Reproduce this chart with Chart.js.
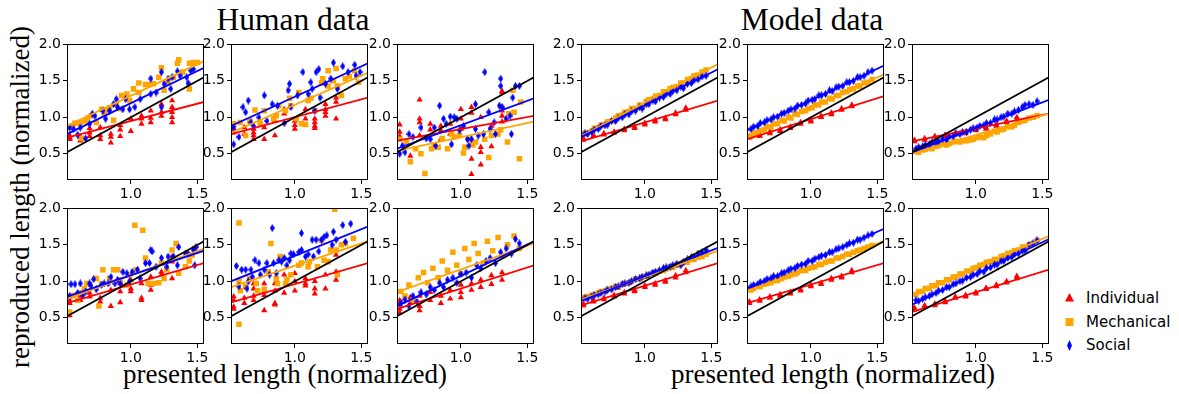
<!DOCTYPE html>
<html>
<head>
<meta charset="utf-8">
<script src="https://cdn.jsdelivr.net/npm/chart.js@4.4.0/dist/chart.umd.min.js"></script>
<style>
body { margin:0; background:#fff; width:1179px; height:394px; overflow:hidden; position:relative; }
.serif { position:absolute; font-family:"Liberation Serif"; color:#000; white-space:nowrap; line-height:1; }
.lg { position:absolute; font-family:"DejaVu Sans"; font-size:15px; line-height:15px; color:#000; white-space:nowrap; }
.mk { position:absolute; }
</style>
</head>
<body>
<div class="serif" style="font-size:31.5px;left:293px;top:4px;transform:translateX(-50%)">Human data</div>
<div class="serif" style="font-size:31.5px;left:812px;top:4px;transform:translateX(-50%)">Model data</div>
<div class="serif" style="font-size:27px;left:285px;top:361px;transform:translateX(-50%)">presented length (normalized)</div>
<div class="serif" style="font-size:27px;left:833px;top:361px;transform:translateX(-50%)">presented length (normalized)</div>
<div class="serif" style="font-size:27px;left:19.5px;top:197px;transform:translate(-50%,-50%) rotate(-90deg)">reproduced length (normalized)</div>

<svg class="mk" style="left:1063px;top:292px" width="13" height="12"><polygon points="6.5,1 11,9.5 2,9.5" fill="#ff0000"/></svg>
<svg class="mk" style="left:1063px;top:316px" width="13" height="12"><rect x="2.5" y="2" width="8" height="8" fill="#ffa500"/></svg>
<svg class="mk" style="left:1063px;top:339px" width="13" height="13"><polygon points="6.5,1 9,6.5 6.5,12 4,6.5" fill="#0000ff"/></svg>
<div class="lg" style="left:1086px;top:291px">Individual</div>
<div class="lg" style="left:1086px;top:315px">Mechanical</div>
<div class="lg" style="left:1086px;top:338px">Social</div>

<script>
// axis ranges and ticks
const xMin = 0.52, xMax = 1.55, yMin = 0.14, yMax = 2.0;
const xTicks = [1.0, 1.5];
const yTicks = [0.5, 1.0, 1.5, 2.0];
const seriesNames = ['Individual', 'Mechanical', 'Social'];

// ---- human data: one list of [presented, reproduced] per panel (top row 0-2, bottom row 3-5)
const humanRed = [
  [[0.54,0.75],[0.54,0.72],[0.54,0.70],[0.62,0.73],[0.62,0.68],[0.69,0.85],[0.69,0.79],[0.69,0.74],[0.77,0.86],[0.77,0.75],[0.77,0.70],[0.85,0.77],[0.85,0.73],[0.85,0.65],[0.92,0.89],[0.92,0.83],[0.92,0.74],[1.0,0.98],[1.0,0.81],[1.08,1.02],[1.08,0.98],[1.08,0.91],[1.15,1.09],[1.15,0.99],[1.15,0.93],[1.23,1.18],[1.23,1.07],[1.23,1.02],[1.31,1.23],[1.31,1.14],[1.31,1.07],[1.31,1.0],[1.31,0.93]],
  [[0.54,0.89],[0.54,0.84],[0.54,0.79],[0.62,0.86],[0.62,0.77],[0.69,0.84],[0.69,0.79],[0.69,0.75],[0.69,0.70],[0.77,0.86],[0.77,0.70],[0.85,0.95],[0.85,0.75],[0.92,1.11],[0.92,1.05],[1.0,0.95],[1.0,0.89],[1.0,0.84],[1.08,1.11],[1.08,0.98],[1.08,0.89],[1.15,0.98],[1.15,0.93],[1.15,0.88],[1.15,0.85],[1.23,1.18],[1.23,1.11],[1.23,1.07],[1.23,1.02],[1.31,1.27],[1.31,1.21],[1.31,0.98]],
  [[0.54,0.90],[0.54,0.80],[0.54,0.74],[0.54,0.70],[0.62,0.47],[0.69,1.24],[0.69,0.98],[0.69,0.93],[0.69,0.75],[0.77,0.91],[0.77,0.83],[0.85,0.88],[0.85,0.82],[0.85,0.70],[0.92,0.91],[0.92,0.77],[1.0,1.11],[1.0,0.98],[1.0,0.84],[1.08,1.14],[1.08,1.06],[1.08,0.43],[1.08,0.22],[1.15,1.0],[1.15,0.59],[1.15,0.52],[1.15,0.35],[1.23,0.88],[1.23,0.60],[1.31,1.36],[1.31,1.34],[1.31,1.14],[1.31,1.09],[1.31,1.02],[1.31,0.94]],
  [[0.54,0.79],[0.54,0.74],[0.54,0.70],[0.54,0.53],[0.62,0.79],[0.62,0.74],[0.69,0.84],[0.69,0.79],[0.77,0.77],[0.77,0.72],[0.85,0.88],[0.85,0.66],[0.92,0.97],[0.92,0.86],[0.92,0.71],[1.0,1.02],[1.0,0.90],[1.0,0.86],[1.08,0.97],[1.08,0.77],[1.08,0.74],[1.15,1.06],[1.15,0.95],[1.15,0.88],[1.23,1.13],[1.23,1.09],[1.31,1.34],[1.31,1.27],[1.31,1.04]],
  [[0.54,0.79],[0.54,0.74],[0.54,0.65],[0.54,0.62],[0.62,0.77],[0.62,0.70],[0.69,0.97],[0.69,0.90],[0.69,0.80],[0.69,0.74],[0.77,0.97],[0.77,0.86],[0.77,0.81],[0.77,0.60],[0.85,0.97],[0.85,0.87],[0.85,0.70],[0.85,0.68],[0.92,1.09],[0.92,0.84],[1.0,1.11],[1.0,1.0],[1.0,0.87],[1.08,1.04],[1.08,0.97],[1.08,0.94],[1.15,1.0],[1.15,0.90],[1.15,0.83],[1.23,1.09],[1.23,0.90],[1.31,1.36],[1.31,1.13],[1.31,1.02]],
  [[0.54,0.62],[0.54,0.68],[0.54,0.57],[0.54,0.74],[0.62,0.70],[0.62,0.78],[0.69,0.80],[0.69,0.66],[0.69,0.60],[0.77,0.74],[0.77,0.85],[0.85,0.80],[0.85,0.70],[0.92,0.88],[0.92,0.76],[1.0,0.95],[1.0,0.85],[1.0,0.78],[1.08,0.97],[1.08,0.88],[1.15,1.02],[1.15,0.92],[1.23,1.08],[1.23,0.96],[1.31,1.12],[1.31,1.02]]
];
const humanOrange = [
  [[0.54,0.86],[0.56,0.88],[0.58,0.92],[0.60,0.92],[0.62,0.93],[0.63,0.71],[0.66,0.95],[0.675,0.99],[0.70,1.02],[0.74,0.93],[0.78,1.11],[0.80,1.05],[0.82,1.10],[0.84,1.13],[0.87,0.96],[0.89,1.18],[0.91,1.12],[0.93,1.30],[0.97,1.32],[0.99,1.23],[1.02,1.39],[1.06,1.47],[1.06,1.34],[1.11,1.45],[1.14,1.45],[1.17,1.46],[1.21,1.55],[1.23,1.68],[1.25,1.37],[1.28,1.48],[1.32,1.55],[1.35,1.74],[1.36,1.79],[1.39,1.62],[1.44,1.39],[1.44,1.74],[1.47,1.75],[1.50,1.75]],
  [[0.54,0.91],[0.59,0.93],[0.63,0.75],[0.66,0.95],[0.70,1.10],[0.74,0.92],[0.77,1.09],[0.84,0.98],[0.86,1.02],[0.88,1.16],[0.93,1.09],[0.96,1.26],[0.97,1.16],[1.01,0.98],[1.03,1.34],[1.05,0.91],[1.08,0.90],[1.10,1.23],[1.12,1.26],[1.15,1.09],[1.20,1.47],[1.21,1.53],[1.25,1.64],[1.25,1.43],[1.29,1.50],[1.31,1.67],[1.32,1.43],[1.35,1.30],[1.38,1.53],[1.41,1.56],[1.45,1.64],[1.48,1.48]],
  [[0.54,0.70],[0.59,0.66],[0.62,0.39],[0.66,0.57],[0.70,0.50],[0.73,0.23],[0.78,0.57],[0.80,0.62],[0.83,0.59],[0.86,0.71],[0.90,0.57],[0.93,0.77],[0.95,0.73],[0.99,0.75],[1.02,0.51],[1.03,0.59],[1.06,0.70],[1.09,0.62],[1.11,0.66],[1.18,0.70],[1.21,0.45],[1.23,0.75],[1.28,0.77],[1.30,0.83],[1.35,0.66],[1.36,1.05],[1.39,1.37],[1.40,1.07],[1.44,0.43],[1.45,1.21]],
  [[0.54,0.58],[0.57,0.81],[0.60,0.74],[0.62,0.84],[0.65,0.90],[0.67,0.97],[0.74,1.04],[0.76,0.66],[0.78,0.97],[0.79,1.16],[0.84,1.04],[0.87,1.16],[0.90,1.16],[0.92,1.02],[0.97,0.95],[0.99,1.09],[1.03,1.77],[1.04,1.16],[1.09,1.70],[1.11,1.32],[1.13,0.97],[1.17,0.97],[1.21,0.98],[1.23,1.25],[1.25,1.04],[1.27,1.16],[1.31,1.43],[1.34,1.52],[1.36,1.11],[1.41,1.20],[1.44,1.28],[1.46,1.36],[1.48,1.45]],
  [[0.58,1.80],[0.58,1.0],[0.59,0.87],[0.58,0.41],[0.63,0.93],[0.66,1.04],[0.71,0.97],[0.72,0.87],[0.77,0.89],[0.80,1.13],[0.82,1.52],[0.86,1.04],[0.87,0.97],[0.89,1.34],[0.93,0.97],[0.94,1.02],[0.97,1.09],[1.03,1.22],[1.05,1.25],[1.10,1.20],[1.11,1.27],[1.17,1.20],[1.20,1.56],[1.22,1.29],[1.25,1.27],[1.27,1.43],[1.30,1.99],[1.31,1.43],[1.32,1.09],[1.35,1.50],[1.38,1.52],[1.44,1.59]],
  [[0.55,0.86],[0.58,0.80],[0.61,0.95],[0.64,0.75],[0.68,1.05],[0.72,1.12],[0.75,0.98],[0.79,1.18],[0.83,1.05],[0.86,1.28],[0.90,1.15],[0.94,1.40],[0.97,1.22],[1.0,1.10],[1.03,1.45],[1.06,1.30],[1.10,1.52],[1.13,1.38],[1.17,1.25],[1.20,1.55],[1.24,1.42],[1.28,1.60],[1.31,1.35],[1.35,1.50],[1.40,1.62],[1.44,1.45]]
];
const humanBlue = [
  [[0.54,0.86],[0.57,0.84],[0.60,0.76],[0.62,0.86],[0.66,0.71],[0.69,0.91],[0.71,1.05],[0.73,1.02],[0.79,1.09],[0.81,0.98],[0.84,1.09],[0.87,1.18],[0.89,1.25],[0.90,1.14],[0.94,1.11],[0.96,1.25],[0.99,1.11],[1.03,1.14],[1.07,1.25],[1.15,1.32],[1.15,1.53],[1.19,1.34],[1.23,1.14],[1.23,1.62],[1.25,1.46],[1.28,1.53],[1.30,1.39],[1.31,1.55],[1.35,1.63],[1.37,1.57],[1.42,1.55],[1.43,1.47],[1.45,1.64],[1.47,1.66]],
  [[0.54,0.86],[0.54,0.63],[0.58,0.73],[0.61,1.14],[0.63,1.07],[0.65,1.23],[0.67,0.93],[0.69,0.88],[0.73,1.00],[0.77,1.30],[0.79,0.95],[0.83,1.18],[0.87,1.16],[0.92,0.92],[0.95,1.37],[0.96,1.46],[0.97,1.14],[1.02,1.30],[1.06,1.62],[1.10,1.32],[1.12,1.48],[1.13,1.39],[1.15,1.09],[1.16,1.62],[1.18,1.66],[1.19,1.27],[1.23,1.46],[1.27,1.53],[1.29,1.75],[1.32,1.39],[1.36,1.70],[1.40,1.62],[1.45,1.72],[1.46,1.57],[1.49,1.62]],
  [[0.54,0.50],[0.56,0.61],[0.58,0.52],[0.61,0.77],[0.64,0.73],[0.70,0.86],[0.74,0.71],[0.77,0.70],[0.80,0.86],[0.81,0.61],[0.84,1.16],[0.87,0.98],[0.89,0.91],[0.92,1.01],[0.93,0.63],[0.95,1.00],[0.97,0.98],[0.99,0.82],[1.02,0.88],[1.05,0.70],[1.06,0.61],[1.08,0.70],[1.11,1.18],[1.11,0.84],[1.13,0.75],[1.17,0.77],[1.18,1.62],[1.21,1.07],[1.22,0.84],[1.25,0.93],[1.26,0.77],[1.29,1.16],[1.30,1.53],[1.30,1.43],[1.31,1.14],[1.34,0.98],[1.37,1.02],[1.38,0.77],[1.39,1.27],[1.41,1.43],[1.44,1.43]],
  [[0.54,0.80],[0.55,0.96],[0.58,0.96],[0.60,0.84],[0.62,0.97],[0.64,0.81],[0.66,0.86],[0.69,0.97],[0.70,0.94],[0.72,1.03],[0.74,0.89],[0.78,0.95],[0.80,0.97],[0.83,0.97],[0.85,1.06],[0.88,0.97],[0.90,1.02],[0.92,0.97],[0.94,1.13],[0.97,1.11],[0.99,1.00],[1.01,1.13],[1.05,1.16],[1.07,1.04],[1.11,1.25],[1.14,1.25],[1.15,1.43],[1.16,1.41],[1.19,1.20],[1.23,1.32],[1.27,1.20],[1.28,1.34],[1.32,1.34],[1.35,1.22],[1.36,1.47],[1.41,1.38],[1.43,1.38],[1.47,1.43],[1.48,1.22],[1.49,1.47]],
  [[0.56,1.21],[0.58,0.93],[0.60,1.16],[0.63,1.16],[0.64,0.90],[0.65,1.0],[0.67,1.16],[0.68,1.06],[0.70,1.29],[0.73,1.25],[0.74,1.09],[0.77,1.16],[0.79,1.25],[0.81,1.09],[0.83,1.73],[0.84,1.25],[0.86,1.11],[0.88,1.29],[0.90,1.27],[0.92,1.32],[0.94,1.22],[0.96,1.29],[0.97,1.38],[0.99,1.37],[1.03,1.40],[1.05,1.66],[1.05,1.43],[1.08,1.34],[1.10,1.37],[1.13,1.57],[1.14,1.34],[1.16,1.57],[1.18,1.41],[1.20,1.57],[1.22,1.61],[1.24,1.63],[1.28,1.50],[1.29,1.68],[1.31,1.57],[1.36,1.77],[1.38,1.54],[1.42,1.79]],
  [[0.55,0.70],[0.58,0.75],[0.61,0.66],[0.64,0.80],[0.67,0.72],[0.70,0.85],[0.74,0.82],[0.77,0.92],[0.80,0.88],[0.84,0.98],[0.87,0.92],[0.90,1.02],[0.94,1.05],[0.97,0.98],[1.0,1.10],[1.04,1.12],[1.08,1.05],[1.12,1.22],[1.15,1.18],[1.19,1.28],[1.22,1.32],[1.26,1.25],[1.30,1.40],[1.34,1.45],[1.38,1.38],[1.41,1.58],[1.44,1.52]]
];
// fitted lines read at the left and right axis limits
const humanRedFit    = [[0.72,1.21],[0.77,1.27],[0.68,1.02],[0.70,1.25],[0.71,1.25],[0.62,1.22]];
const humanOrangeFit = [[0.88,1.77],[0.79,1.61],[0.54,0.94],[0.76,1.45],[0.92,1.55],[0.85,1.52]];
const humanBlueFit   = [[0.77,1.68],[0.88,1.74],[0.57,1.26],[0.79,1.42],[1.00,1.75],[0.66,1.55]];

// ---- model data
const modelRedX = [0.538,0.538,0.615,0.615,0.692,0.692,0.769,0.769,0.846,0.846,0.923,0.923,1.0,1.0,1.077,1.077,1.154,1.154,1.231,1.231,1.308,1.308];
const modelRedY = [
  [0.69,0.71,0.74,0.75,0.76,0.78,0.79,0.80,0.82,0.84,0.85,0.87,0.90,0.92,0.94,0.96,0.97,0.99,1.04,1.06,1.10,1.13],
  [0.72,0.74,0.74,0.76,0.78,0.80,0.81,0.83,0.85,0.87,0.91,0.93,0.94,0.96,1.00,1.02,1.04,1.06,1.10,1.12,1.15,1.17],
  [0.67,0.69,0.69,0.71,0.73,0.74,0.74,0.76,0.76,0.78,0.78,0.80,0.82,0.84,0.84,0.86,0.88,0.90,0.93,0.95,0.97,1.00],
  [0.67,0.69,0.72,0.74,0.75,0.77,0.79,0.81,0.83,0.85,0.86,0.88,0.92,0.94,0.95,0.97,0.99,1.01,1.05,1.08,1.12,1.15],
  [0.70,0.72,0.73,0.75,0.77,0.79,0.80,0.82,0.83,0.85,0.87,0.89,0.93,0.95,0.96,0.98,1.02,1.04,1.05,1.07,1.12,1.15],
  [0.61,0.64,0.65,0.67,0.67,0.69,0.71,0.73,0.77,0.79,0.79,0.81,0.83,0.85,0.89,0.91,0.93,0.95,0.98,1.00,1.04,1.07]
];
const modelX = [0.55,0.57,0.60,0.62,0.65,0.67,0.70,0.72,0.75,0.78,0.80,0.83,0.85,0.88,0.90,0.93,0.96,0.98,1.01,1.03,1.06,1.08,1.11,1.14,1.16,1.19,1.21,1.24,1.27,1.29,1.32,1.35,1.37,1.40,1.43,1.46];
const modelOrangeY = [
  [0.78,0.79,0.81,0.85,0.86,0.89,0.90,0.94,0.95,0.99,1.02,1.03,1.07,1.08,1.12,1.12,1.17,1.15,1.22,1.24,1.25,1.29,1.30,1.35,1.35,1.39,1.41,1.42,1.47,1.47,1.52,1.53,1.57,1.58,1.62,1.65],
  [0.74,0.78,0.79,0.82,0.83,0.87,0.87,0.91,0.91,0.96,0.95,1.00,0.99,1.05,1.04,1.08,1.09,1.12,1.13,1.17,1.17,1.21,1.21,1.26,1.25,1.30,1.30,1.34,1.35,1.38,1.39,1.43,1.43,1.47,1.48,1.52],
  [0.53,0.52,0.55,0.56,0.58,0.57,0.60,0.61,0.63,0.62,0.64,0.66,0.67,0.66,0.68,0.68,0.69,0.70,0.72,0.73,0.72,0.75,0.77,0.81,0.80,0.83,0.84,0.87,0.87,0.89,0.93,0.95,0.96,0.99,1.00,1.02],
  [0.78,0.79,0.81,0.82,0.84,0.86,0.86,0.89,0.90,0.93,0.92,0.96,0.97,0.98,1.00,1.03,1.03,1.06,1.07,1.09,1.11,1.11,1.14,1.15,1.17,1.20,1.19,1.22,1.24,1.26,1.26,1.30,1.30,1.33,1.34,1.37],
  [0.88,0.90,0.93,0.93,0.96,0.97,0.98,1.01,1.01,1.04,1.06,1.07,1.09,1.10,1.12,1.15,1.15,1.18,1.19,1.20,1.23,1.23,1.26,1.28,1.28,1.32,1.32,1.34,1.37,1.37,1.40,1.42,1.43,1.45,1.47,1.49],
  [0.82,0.86,0.86,0.90,0.90,0.94,0.94,0.98,0.98,1.02,1.02,1.06,1.06,1.10,1.10,1.14,1.14,1.18,1.19,1.22,1.23,1.26,1.27,1.30,1.30,1.34,1.35,1.38,1.39,1.42,1.43,1.47,1.47,1.50,1.52,1.56]
];
const modelBlueY = [
  [0.78,0.77,0.80,0.83,0.84,0.88,0.89,0.90,0.95,0.95,0.99,1.00,1.04,1.04,1.08,1.09,1.14,1.12,1.18,1.18,1.23,1.22,1.27,1.28,1.32,1.32,1.36,1.37,1.42,1.40,1.46,1.47,1.51,1.52,1.56,1.57],
  [0.84,0.87,0.88,0.92,0.93,0.96,0.97,1.00,1.01,1.05,1.06,1.09,1.11,1.12,1.16,1.17,1.19,1.23,1.24,1.25,1.30,1.30,1.32,1.37,1.36,1.41,1.42,1.43,1.48,1.48,1.50,1.55,1.55,1.57,1.62,1.64],
  [0.57,0.59,0.60,0.62,0.63,0.66,0.66,0.67,0.70,0.69,0.74,0.74,0.78,0.77,0.80,0.80,0.83,0.85,0.86,0.88,0.89,0.92,0.92,0.97,0.97,1.00,1.01,1.05,1.05,1.08,1.10,1.14,1.17,1.18,1.17,1.22],
  [0.77,0.76,0.79,0.81,0.82,0.84,0.86,0.88,0.89,0.92,0.93,0.96,0.97,0.98,1.00,1.03,1.04,1.06,1.08,1.09,1.12,1.13,1.15,1.18,1.19,1.20,1.22,1.24,1.22,1.26,1.30,1.33,1.34,1.38,1.40,1.43],
  [0.93,0.95,0.96,0.99,1.00,1.03,1.04,1.07,1.07,1.11,1.12,1.15,1.17,1.18,1.21,1.23,1.24,1.28,1.28,1.31,1.33,1.35,1.36,1.40,1.40,1.44,1.45,1.47,1.50,1.52,1.53,1.57,1.57,1.60,1.63,1.65],
  [0.74,0.73,0.76,0.78,0.80,0.82,0.84,0.87,0.88,0.92,0.92,0.96,0.97,1.00,1.01,1.05,1.06,1.09,1.10,1.14,1.13,1.18,1.19,1.23,1.23,1.28,1.28,1.32,1.33,1.37,1.38,1.42,1.42,1.50,1.52,1.56]
];
const modelRedFit    = [[0.67,1.23],[0.70,1.29],[0.67,1.05],[0.67,1.25],[0.70,1.25],[0.58,1.16]];
const modelOrangeFit = [[0.74,1.73],[0.73,1.59],[0.50,1.05],[0.75,1.42],[0.87,1.55],[0.81,1.62]];
const modelBlueFit   = [[0.73,1.66],[0.82,1.71],[0.52,1.24],[0.73,1.46],[0.90,1.72],[0.68,1.58]];

// ---- layout of the 12 axes boxes
const boxLeft = [67, 231, 397, 581, 747, 912];
const boxTop = [44, 208];
const padL = 34, padT = 10, padR = 12, padB = 24, boxW = 137, boxH = 136;

const RED = '#ff0000', ORANGE = '#ffa500', BLUE = '#0000ff';

function thinDiamond() {
  const c = document.createElement('canvas');
  c.width = 5; c.height = 8;
  const g = c.getContext('2d');
  g.fillStyle = BLUE;
  g.beginPath();
  g.moveTo(2.5, 0); g.lineTo(5, 4); g.lineTo(2.5, 8); g.lineTo(0, 4);
  g.closePath(); g.fill();
  return c;
}
const diamond = thinDiamond();

const frame = {
  id: 'frame',
  afterDraw(chart) {
    const a = chart.chartArea, ctx = chart.ctx;
    ctx.save();
    ctx.strokeStyle = '#000';
    ctx.lineWidth = 1;
    ctx.strokeRect(Math.round(a.left) + 0.5, Math.round(a.top) + 0.5,
      Math.round(a.right - a.left) - 1, Math.round(a.bottom - a.top) - 1);
    ctx.restore();
  }
};

function pts(list) { return list.map(p => ({x: p[0], y: p[1]})); }
function zip(xs, ys) { return xs.map((x, i) => ({x: x, y: ys[i]})); }
function fitLine(f) { return [{x: xMin, y: f[0]}, {x: xMax, y: f[1]}]; }

function lineSet(data, color, order) {
  return {data: data, showLine: true, borderColor: color, borderWidth: 1.8,
    pointRadius: 0, fill: false, order: order};
}

function tickScale(vals, fit) {
  return {
    type: 'linear',
    afterBuildTicks: s => { s.ticks = vals.map(v => ({value: v})); },
    afterFit: fit,
    ticks: {font: {family: 'DejaVu Sans', size: 14}, color: '#000', padding: 2,
      maxRotation: 0, autoSkip: false, callback: v => v.toFixed(1)},
    grid: {display: true, drawOnChartArea: false, drawTicks: true, tickLength: 4,
      color: '#000', lineWidth: 1},
    border: {display: false}
  };
}

function makePanel(left, top, red, orange, blue, fits) {
  const c = document.createElement('canvas');
  const w = padL + boxW + padR, h = padT + boxH + padB;
  c.width = w; c.height = h;
  c.style.cssText = 'position:absolute;left:' + (left - padL) + 'px;top:' + (top - padT) + 'px;width:' + w + 'px;height:' + h + 'px';
  document.body.appendChild(c);

  const xs = tickScale(xTicks, s => { s.height = padB; });
  xs.min = xMin; xs.max = xMax;
  const ys = tickScale(yTicks, s => { s.width = padL; });
  ys.min = yMin; ys.max = yMax;

  new Chart(c, {
    type: 'scatter',
    data: {datasets: [
      lineSet(fitLine([xMin, xMax]), '#000', 0),
      lineSet(fitLine(fits[2]), BLUE, 1),
      lineSet(fitLine(fits[1]), ORANGE, 2),
      lineSet(fitLine(fits[0]), RED, 3),
      {label: seriesNames[2], data: blue, pointStyle: diamond, pointRadius: 4, order: 4},
      {label: seriesNames[1], data: orange, pointStyle: 'rect', pointRadius: 3.9,
        backgroundColor: ORANGE, borderWidth: 0, order: 5},
      {label: seriesNames[0], data: red, pointStyle: 'triangle', pointRadius: 3.6,
        backgroundColor: RED, borderWidth: 0, order: 6}
    ]},
    options: {
      responsive: false, animation: false, devicePixelRatio: 1, events: [],
      layout: {padding: {top: padT, right: padR, left: 0, bottom: 0}},
      plugins: {legend: {display: false}, tooltip: {enabled: false}},
      scales: {x: xs, y: ys}
    },
    plugins: [frame]
  });
}

for (let r = 0; r < 2; r++) {
  for (let c = 0; c < 6; c++) {
    const p = r * 3 + (c % 3);
    if (c < 3) {
      makePanel(boxLeft[c], boxTop[r], pts(humanRed[p]), pts(humanOrange[p]), pts(humanBlue[p]),
        [humanRedFit[p], humanOrangeFit[p], humanBlueFit[p]]);
    } else {
      makePanel(boxLeft[c], boxTop[r], zip(modelRedX, modelRedY[p]), zip(modelX, modelOrangeY[p]),
        zip(modelX, modelBlueY[p]), [modelRedFit[p], modelOrangeFit[p], modelBlueFit[p]]);
    }
  }
}
</script>
</body>
</html>
